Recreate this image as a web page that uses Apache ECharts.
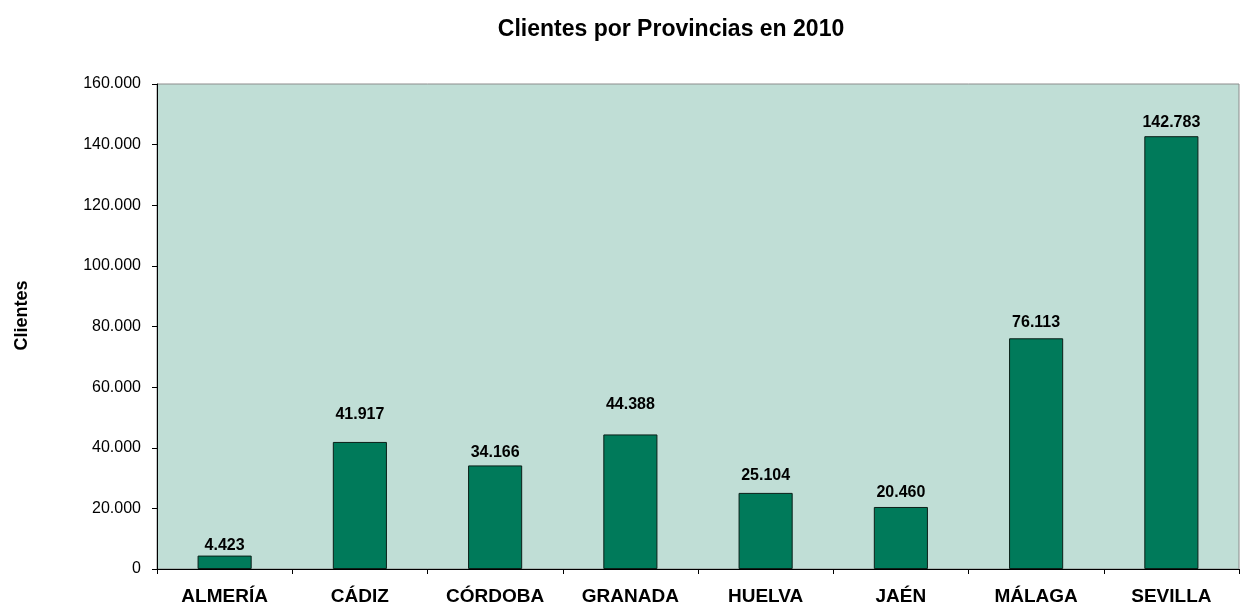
<!DOCTYPE html>
<html>
<head>
<meta charset="utf-8">
<script src="https://cdn.jsdelivr.net/npm/echarts@6/dist/echarts.min.js"></script>
<style>
  html, body { margin: 0; padding: 0; background: #fff; }
  #chart { width: 1243px; height: 608px; }
</style>
</head>
<body>
<div id="chart"></div>
<script>
const provincias = ['ALMERÍA', 'CÁDIZ', 'CÓRDOBA', 'GRANADA', 'HUELVA', 'JAÉN', 'MÁLAGA', 'SEVILLA'];
const clientes = [4423, 41917, 34166, 44388, 25104, 20460, 76113, 142783];
// distancia de cada etiqueta sobre su barra (como en el original de Excel)
const labelGaps = [2, 19, 5, 22, 9, 6, 8, 6];

function miles(v) {
  return String(v).replace(/\B(?=(\d{3})+(?!\d))/g, '.');
}

const chart = echarts.init(document.getElementById('chart'));
const font = 'Liberation Sans, Arial, sans-serif';

chart.setOption({
  animation: false,
  textStyle: { fontFamily: font },
  title: {
    text: 'Clientes por Provincias en 2010',
    left: 666,
    textAlign: 'center',
    top: 13,
    textStyle: { fontSize: 23, fontWeight: 'bold', color: '#000', fontFamily: font }
  },
  grid: {
    left: 157, right: 4, top: 84, bottom: 39,
    show: true,
    backgroundColor: '#c0ded6',
    borderColor: '#8c8c8c',
    borderWidth: 1
  },
  xAxis: {
    type: 'category',
    data: provincias,
    axisLine: { lineStyle: { color: '#000', width: 1 } },
    axisTick: { show: true, length: 5, lineStyle: { color: '#000' } },
    axisLabel: {
      color: '#000', fontSize: 19, fontWeight: 'bold', margin: 18, fontFamily: font
    }
  },
  yAxis: {
    type: 'value',
    min: 0, max: 160000, interval: 20000,
    name: 'Clientes',
    nameLocation: 'middle',
    nameGap: 126,
    nameRotate: 90,
    nameMoveOverlap: false,
    nameTextStyle: {
      fontSize: 18, fontWeight: 'bold', color: '#000', fontFamily: font,
      padding: [0, 0, 0, 22]
    },
    axisLine: { show: true, lineStyle: { color: '#000', width: 1 } },
    axisTick: { show: true, length: 5, lineStyle: { color: '#000' } },
    splitLine: { show: false },
    axisLabel: {
      color: '#000', fontSize: 16, margin: 16, fontFamily: font,
      formatter: miles
    }
  },
  series: [{
    type: 'bar',
    barWidth: '40%',
    data: clientes.map((v, i) => ({
      value: v,
      label: { distance: labelGaps[i] }
    })),
    itemStyle: { color: '#007a5a', borderColor: '#0a1f18', borderWidth: 1 },
    label: {
      show: true,
      position: 'top',
      color: '#000',
      fontSize: 16,
      fontWeight: 'bold',
      fontFamily: font,
      formatter: p => miles(p.value)
    }
  }]
});
</script>
</body>
</html>
